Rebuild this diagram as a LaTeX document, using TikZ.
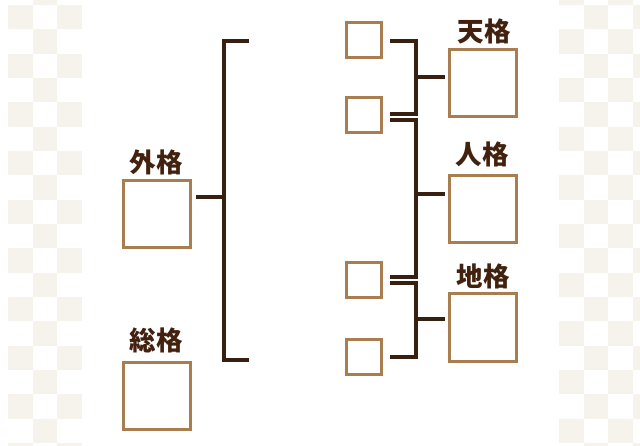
\documentclass[tikz,border=0pt]{standalone}
\usepackage{fontspec}
\newfontfamily\cjk{Noto Sans CJK JP}[BoldFont={Noto Sans CJK JP Black}]
\definecolor{linec}{RGB}{55,32,18}
\definecolor{boxc}{RGB}{168,126,80}
\definecolor{txt}{RGB}{66,34,14}
\definecolor{chk}{RGB}{246,243,236}
\begin{document}
\begin{tikzpicture}[x=1pt,y=-1pt,
  box/.style={draw=boxc, line width=3pt, fill=white, inner sep=0pt},
  sbox/.style={box, minimum width=35pt, minimum height=35pt},
  bbox/.style={box, minimum width=67pt, minimum height=67pt},
  lab/.style={text=txt, font=\cjk\bfseries\fontsize{26.5}{30}\selectfont, inner sep=0pt},
  conn/.style={draw=linec, line width=3.2pt}]
\fill[white] (0,0) rectangle (640,446);
\useasboundingbox (0,0) rectangle (640,446);
\begin{scope}
\clip (0,0) rectangle (640,446);
\foreach \i in {-1,...,18}{
  \foreach \j in {0,1,2}{
    \pgfmathtruncatemacro{\pp}{mod(\i+\j+2,2)}
    \ifnum\pp=0
      \fill[chk] ({8+24.67*\j},{5+24.33*\i}) rectangle ++(24.67,24.33);
    \fi
  }
  \foreach \j in {0,1,2,3}{
    \pgfmathtruncatemacro{\pp}{mod(\i+\j+2,2)}
    \ifnum\pp=1
      \fill[chk] ({559+24.5*\j},{5+24.33*\i}) rectangle ++(24.5,24.33);
    \fi
  }
}
\end{scope}
% small boxes
\node[sbox] (b1) at (364,40) {};
\node[sbox] (b2) at (364,115) {};
\node[sbox] (b3) at (364,280) {};
\node[sbox] (b4) at (364,357) {};
% big boxes
\node[bbox] (T) at (483,83.5) {};
\node[bbox] (P) at (483,209) {};
\node[bbox] (E) at (483,327.5) {};
\node[bbox] (G) at (157,214) {};
\node[bbox] (S) at (157,396) {};
% labels
\node[lab] (lt) at (484,31) {天格};
\node[lab] (lp) at (482,154) {人格};
\node[lab] (le) at (483,276) {地格};
\node[lab] (lg) at (156,162) {外格};
\node[lab] (ls) at (156,340) {総格};
% bracket coordinates
\coordinate (ta) at (390,41);
\coordinate (tm) at (416,77);
\coordinate (tb) at (390,114);
\coordinate (pa) at (390,120);
\coordinate (pm) at (416,194);
\coordinate (pb) at (390,277);
\coordinate (ea) at (390,283);
\coordinate (em) at (416,319);
\coordinate (eb) at (390,357);
\coordinate (ga) at (249,41);
\coordinate (gm) at (224,197);
\coordinate (gb) at (249,360);
\coordinate (te) at (445,77);
\coordinate (pe) at (445,194);
\coordinate (ee) at (445,319);
\coordinate (ge) at (196,197);
% connectors
\draw[conn] (ta) -| (tm) |- (tb);
\draw[conn] (tm) -- (te);
\draw[conn] (pa) -| (pm) |- (pb);
\draw[conn] (pm) -- (pe);
\draw[conn] (ea) -| (em) |- (eb);
\draw[conn] (em) -- (ee);
\draw[conn] (ga) -| (gm) |- (gb);
\draw[conn] (gm) -- (ge);
\end{tikzpicture}
\end{document}
